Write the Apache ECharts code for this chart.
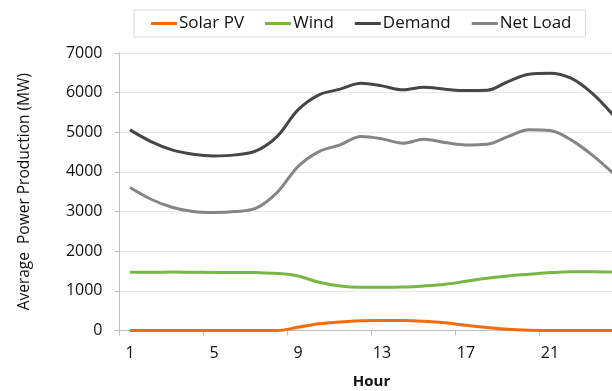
<!DOCTYPE html>
<html>
<head>
<meta charset="utf-8">
<script src="https://cdn.jsdelivr.net/npm/echarts@6/dist/echarts.min.js"></script>
<style>
html,body{margin:0;padding:0;background:#fff;}
#chart{width:612px;height:391px;}
</style>
</head>
<body>
<div id="chart"></div>
<script>
var hours = ['1','2','3','4','5','6','7','8','9','10','11','12','13','14','15','16','17','18','19','20','21','22','23','24'];
var solarPV = [0,0,0,0,0,0,0,0,80,170,215,245,255,255,235,195,130,75,30,8,0,0,0,0];
var wind = [1470,1470,1475,1470,1465,1465,1460,1440,1376,1216,1123,1090,1090,1095,1123,1166,1242,1317,1376,1418,1460,1484,1484,1475];
var demand = [5060,4766,4556,4447,4404,4430,4531,4892,5565,5944,6088,6239,6171,6070,6137,6088,6053,6060,6280,6466,6492,6365,5987,5439];
var netLoad = [3605,3311,3109,2999,2974,2999,3084,3478,4134,4513,4682,4892,4834,4725,4826,4740,4682,4700,4892,5061,5043,4808,4430,3968];
var yTicks = [0,1000,2000,3000,4000,5000,6000,7000];

var font = '"Open Sans", "Liberation Sans", sans-serif';
function mk(name, data, color) {
  return {
    name: name, type: 'line', data: data, smooth: 0.35,
    showSymbol: false, symbol: 'none',
    lineStyle: {color: color, width: 3},
    itemStyle: {color: color}
  };
}
var chart = echarts.init(document.getElementById('chart'));
chart.setOption({
  animation: false,
  textStyle: {fontFamily: font},
  legend: {
    left: 134, top: 10,
    padding: [5, 14, 5, 17],
    borderColor: '#d9d9d9', borderWidth: 1,
    itemGap: 21, itemWidth: 26, itemHeight: 3,
    icon: 'rect',
    textStyle: {fontSize: 17, color: '#111', fontFamily: font, padding: [0, 0, 0, -3]},
    data: ['Solar PV', 'Wind', 'Demand', 'Net Load']
  },
  grid: {left: 119.5, top: 53, width: 504, height: 277.5, containLabel: false, outerBoundsMode: 'none'},
  xAxis: {
    type: 'category', data: hours, boundaryGap: true,
    name: 'Hour', nameLocation: 'middle', nameGap: 44,
    nameTextStyle: {fontSize: 15, fontWeight: 'bold', color: '#111', fontFamily: font},
    axisLine: {lineStyle: {color: '#bfbfbf', width: 1}},
    axisTick: {show: true, alignWithLabel: false, length: 5, lineStyle: {color: '#bfbfbf'}},
    axisLabel: {
      interval: function (i) { return i % 4 === 0; },
      fontSize: 16, color: '#111', margin: 15, fontFamily: font
    },
    splitLine: {show: false}
  },
  yAxis: {
    type: 'value', min: 0, max: 7000, interval: 1000,
    name: 'Average  Power Production (MW)', nameLocation: 'middle', nameGap: 87,
    nameTextStyle: {fontSize: 15.5, color: '#111', fontFamily: font},
    axisLine: {show: true, lineStyle: {color: '#bfbfbf', width: 1}},
    axisTick: {show: true, length: 5, lineStyle: {color: '#bfbfbf'}},
    axisLabel: {
      fontSize: 16, color: '#111', margin: 17, fontFamily: font,
      formatter: function (v) { return yTicks.indexOf(v) >= 0 ? String(v) : ''; }
    },
    splitLine: {show: true, lineStyle: {color: '#e8e8e8', width: 1}}
  },
  series: [
    mk('Solar PV', solarPV, '#fa6a0a'),
    mk('Wind', wind, '#78b744'),
    mk('Demand', demand, '#464646'),
    mk('Net Load', netLoad, '#858585')
  ]
});
</script>
</body>
</html>
